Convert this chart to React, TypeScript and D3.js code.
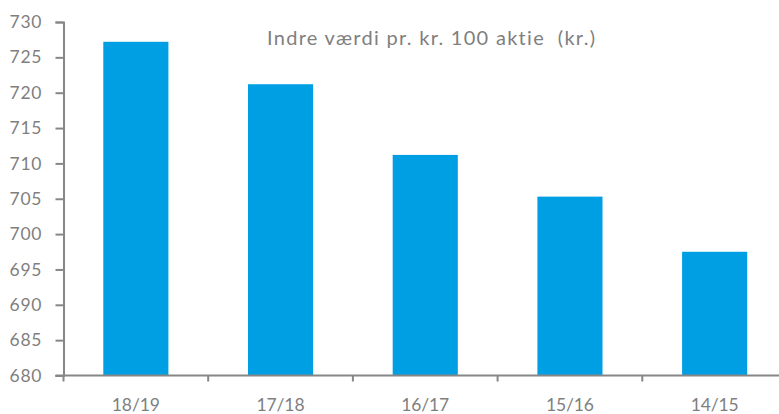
import React, { useEffect, useRef } from 'react'
import * as d3 from 'd3'

const categories = ['18/19', '17/18', '16/17', '15/16', '14/15']
const values = [727.2, 721.2, 711.2, 705.3, 697.5]
const yTicks = [680, 685, 690, 695, 700, 705, 710, 715, 720, 725, 730]
const title = 'Indre værdi pr. kr. 100 aktie  (kr.)'

const width = 779
const height = 414
const margin = { top: 22, right: -8, bottom: 38.5, left: 63.5 }
const grey = '#878787'
const textGrey = '#7f7f7f'
const barColor = '#009fe3'
const font = 'Lato, "Noto Sans", sans-serif'

export default function App() {
  const ref = useRef<SVGSVGElement>(null)

  useEffect(() => {
    const svg = d3.select(ref.current)
    svg.selectAll('*').remove()

    const x = d3.scaleBand()
      .domain(categories)
      .range([margin.left, width - margin.right])
      .paddingInner(0.55)
      .paddingOuter(0.275)

    const y = d3.scaleLinear()
      .domain([680, 730])
      .range([height - margin.bottom, margin.top])

    // bars
    svg.append('g')
      .selectAll('rect')
      .data(values)
      .join('rect')
      .attr('x', (d, i) => x(categories[i])!)
      .attr('width', x.bandwidth())
      .attr('y', d => y(d))
      .attr('height', d => y(680) - y(d))
      .attr('fill', barColor)

    // y axis
    const yAxis = svg.append('g')
      .attr('transform', `translate(${margin.left},0)`)
      .call(d3.axisLeft(y).tickValues(yTicks).tickSize(8).tickPadding(20).tickFormat(d3.format('d')))
    yAxis.select('.domain').attr('stroke', grey).attr('stroke-width', 2)
    yAxis.selectAll('.tick line').attr('stroke', grey).attr('stroke-width', 2)
    yAxis.selectAll('.tick text')
      .attr('fill', textGrey)
      .attr('text-anchor', 'start')
      .attr('x', -54)
      .attr('textLength', 32)
      .attr('lengthAdjust', 'spacing')
      .style('font-family', font)
      .style('font-size', '17.5px')

    // x axis with ticks at category boundaries
    const xAxisG = svg.append('g')
      .attr('transform', `translate(0,${y(680)})`)
    xAxisG.append('line')
      .attr('x1', margin.left - 8)
      .attr('x2', width)
      .attr('stroke', grey)
      .attr('stroke-width', 2)
    const step = x.step()
    const bounds = d3.range(categories.length + 1).map(i => margin.left + i * step)
    xAxisG.selectAll('line.tk')
      .data(bounds)
      .join('line')
      .attr('class', 'tk')
      .attr('x1', d => d)
      .attr('x2', d => d)
      .attr('y1', 0)
      .attr('y2', 6)
      .attr('stroke', grey)
      .attr('stroke-width', 2)
    xAxisG.selectAll('text')
      .data(categories)
      .join('text')
      .attr('x', d => x(d)! + x.bandwidth() / 2)
      .attr('y', 35)
      .attr('text-anchor', 'middle')
      .attr('fill', textGrey)
      .attr('textLength', 48)
      .attr('lengthAdjust', 'spacing')
      .style('font-family', font)
      .style('font-size', '17.5px')
      .text(d => d)

    // title
    svg.append('text')
      .attr('x', 431)
      .attr('y', 45)
      .attr('text-anchor', 'middle')
      .attr('fill', textGrey)
      .attr('textLength', 328)
      .attr('lengthAdjust', 'spacing')
      .style('font-family', font)
      .style('font-size', '20px')
      .style('font-variant-ligatures', 'none')
      .style('white-space', 'pre')
      .text(title)
  }, [])

  return (
    <svg ref={ref} width={width} height={height}
      style={{ position: 'absolute', left: 0, top: 0, background: '#fff' }} />
  )
}
